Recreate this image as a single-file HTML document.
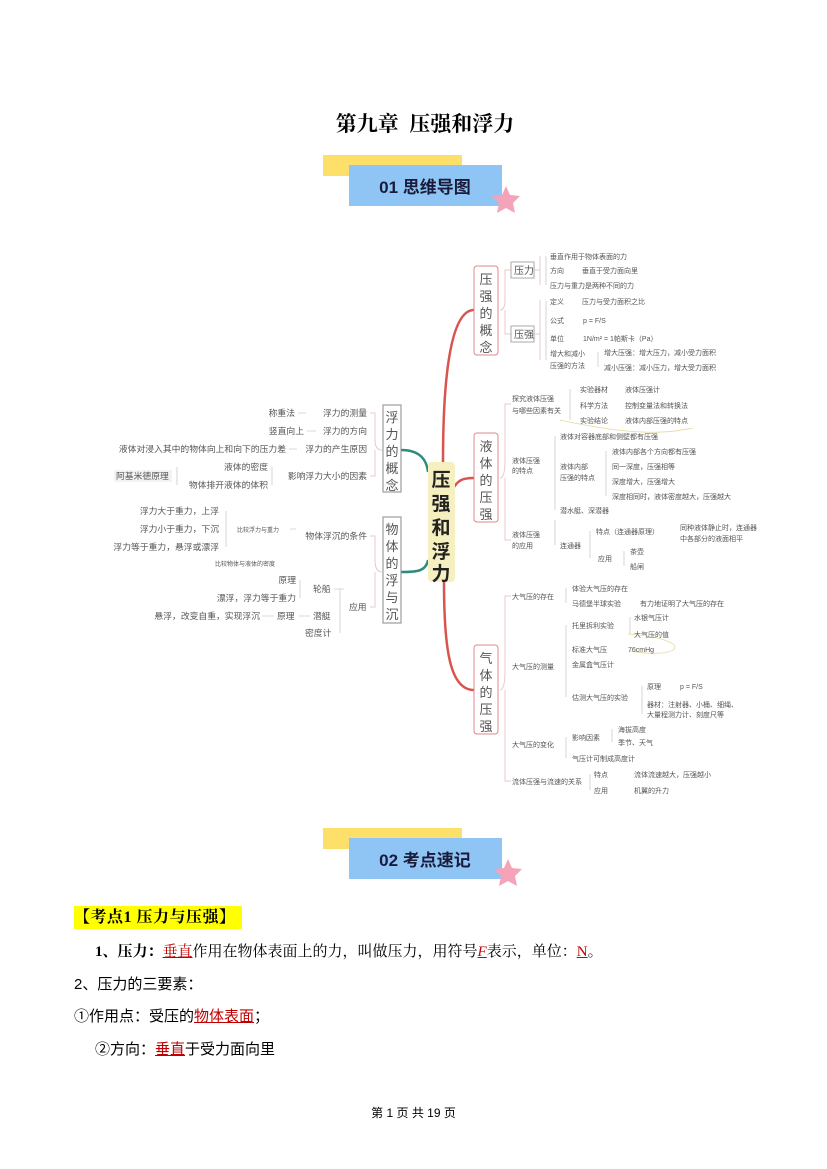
<!DOCTYPE html>
<html><head><meta charset="utf-8">
<style>
body{margin:0;background:#fff;}
#p{position:relative;width:827px;height:1169px;overflow:hidden;font-family:"Liberation Serif","Noto Serif CJK SC",serif;}
.a{position:absolute;white-space:nowrap;}
svg text{font-family:"Liberation Sans","Noto Sans CJK SC",sans-serif;fill:#555;}
.red{color:#c00000;text-decoration:underline;}
</style></head><body><div id="p">
<div class="a" style="left:0;width:850px;text-align:center;top:108px;font-size:21px;font-weight:bold;">第九章&nbsp; 压强和浮力</div>

<svg class="a" style="left:0;top:0" width="827" height="1169">
<rect x="323" y="155" width="139" height="21" fill="#fde06a"/>
<rect x="349" y="165" width="153" height="41" fill="#8ec5f4"/>
<polygon points="506,186 510,195 520,196 513,203 515,213 506,208 497,213 499,203 492,196 502,195" fill="#f4a3b8"/>
<text x="425" y="193" text-anchor="middle" font-size="17" font-weight="bold" style="fill:#1a1a3a">01  思维导图</text>
<rect x="323" y="828" width="139" height="21" fill="#fde06a"/>
<rect x="349" y="838" width="153" height="41" fill="#8ec5f4"/>
<polygon points="508,859 512,868 522,869 515,876 517,886 508,881 499,886 501,876 494,869 504,868" fill="#f4a3b8"/>
<text x="425" y="866" text-anchor="middle" font-size="17" font-weight="bold" style="fill:#1a1a3a">02  考点速记</text>

<g fill="none" stroke-width="2.5">
<path d="M443,462 C443,380 450,310 474,310" stroke="#d9544f"/>
<path d="M452,490 C458,480 462,478 474,478" stroke="#d9544f"/>
<path d="M444,582 C444,650 450,690 474,690" stroke="#d9544f"/>
<path d="M428,472 C426,455 415,450 401,450" stroke="#2e8b80"/>
<path d="M428,560 C426,572 415,572 401,572" stroke="#2e8b80"/>
</g>
<rect x="428" y="462" width="27" height="120" rx="4" fill="#f6efbf"/>
<g font-size="19" font-weight="bold" text-anchor="middle">
<text x="441" y="486" style="fill:#222">压</text><text x="441" y="510" style="fill:#222">强</text><text x="441" y="534" style="fill:#222">和</text><text x="441" y="558" style="fill:#222">浮</text><text x="441" y="580" style="fill:#222">力</text></g>

<g fill="#fff" stroke-width="1">
<rect x="474" y="266" width="24" height="89" rx="3" stroke="#d88"/>
<rect x="474" y="433" width="24" height="89" rx="3" stroke="#d88"/>
<rect x="474" y="645" width="24" height="89" rx="3" stroke="#d88"/>
<rect x="383" y="405" width="18" height="87" stroke="#888"/>
<rect x="383" y="517" width="18" height="106" stroke="#888"/>
</g>
<g font-size="13" text-anchor="middle">
<text x="486" y="284">压</text><text x="486" y="301">强</text><text x="486" y="318">的</text><text x="486" y="335">概</text><text x="486" y="352">念</text>
<text x="486" y="451">液</text><text x="486" y="468">体</text><text x="486" y="485">的</text><text x="486" y="502">压</text><text x="486" y="519">强</text>
<text x="486" y="663">气</text><text x="486" y="680">体</text><text x="486" y="697">的</text><text x="486" y="714">压</text><text x="486" y="731">强</text>
<text x="392" y="422">浮</text><text x="392" y="439">力</text><text x="392" y="456">的</text><text x="392" y="473">概</text><text x="392" y="490">念</text>
<text x="392" y="534">物</text><text x="392" y="551">体</text><text x="392" y="568">的</text><text x="392" y="585">浮</text><text x="392" y="602">与</text><text x="392" y="619">沉</text>
</g>

<g fill="none" stroke="#e8c8c8" stroke-width="1">
<path d="M500,310 Q505,310 505,300 V270 Q505,270 511,270 M505,310 V334 H511"/>
<path d="M534,270 H540 M540,256 V285 M534,334 H540 M540,300 V360"/>
<path d="M500,478 Q505,478 505,460 V404 H511 M505,478 V540 H511"/>
<path d="M500,690 Q505,690 505,670 V596 H511 M505,690 V781 H511"/>
<path d="M382,450 Q375,450 375,440 V413 H370 M375,450 V476 H370"/>
<path d="M382,572 Q375,572 375,560 V536 H370 M375,572 V607 H370"/>
</g>
<g fill="none" stroke="#ccc" stroke-width="0.8">
<path d="M546,256 V285 M546,301 V360 M598,352 V367 M570,389 V420 M555,436 V510 M606,451 V496 M555,520 V545 M590,531 V558 M624,551 V566"/>
<path d="M566,588 V603 M566,625 V697 M630,617 V634 M642,686 V714 M566,737 V758 M612,729 V742 M590,774 V790"/>
<path d="M298,413 H306 M307,431 H316 M289,449 H297 M272,467 V485 M177,467 V485 M226,511 V547 M290,529 H296 M300,580 V598 M334,589 H344 M262,616 H274 M299,616 H310 M340,589 V633"/>
<path d="M560,420 C650,440 680,430 693,428 M628,634 C700,640 680,660 630,651" stroke="#e6d9a0"/>
</g>

<rect x="511" y="262" width="23" height="16" fill="#fff" stroke="#aaa"/>
<rect x="511" y="326" width="23" height="16" fill="#fff" stroke="#aaa"/>
<g font-size="10"><text x="514" y="274">压力</text><text x="514" y="338">压强</text></g>

<g font-size="8.8" text-anchor="end">
<text x="295" y="416">称重法</text><text x="367" y="416">浮力的测量</text>
<text x="304" y="434">竖直向上</text><text x="367" y="434">浮力的方向</text>
<text x="286" y="452">液体对浸入其中的物体向上和向下的压力差</text><text x="367" y="452">浮力的产生原因</text>
<text x="268" y="470">液体的密度</text><text x="268" y="488">物体排开液体的体积</text><text x="367" y="479">影响浮力大小的因素</text>
<text x="219" y="514">浮力大于重力，上浮</text><text x="219" y="532">浮力小于重力，下沉</text><text x="219" y="550">浮力等于重力，悬浮或漂浮</text>
<text x="367" y="539">物体浮沉的条件</text>
<text x="296" y="583">原理</text><text x="296" y="601">漂浮，浮力等于重力</text><text x="260" y="619">悬浮，改变自重，实现浮沉</text>
</g>
<rect x="114" y="470" width="58" height="12" fill="#f3f3f3"/>
<g font-size="8.8">
<text x="116" y="479">阿基米德原理</text>
<text x="313" y="592">轮船</text><text x="277" y="619">原理</text><text x="313" y="619">潜艇</text><text x="305" y="636">密度计</text><text x="349" y="610">应用</text>
</g>
<g font-size="7">
<text x="237" y="532" font-size="6">比较浮力与重力</text>
<text x="215" y="566" font-size="6">比较物体与液体的密度</text>
<text x="550" y="259">垂直作用于物体表面的力</text>
<text x="550" y="273">方向</text><text x="582" y="273">垂直于受力面向里</text>
<text x="550" y="288">压力与重力是两种不同的力</text>
<text x="550" y="304">定义</text><text x="582" y="304">压力与受力面积之比</text>
<text x="550" y="323">公式</text><text x="583" y="323">p = F/S</text>
<text x="550" y="341">单位</text><text x="583" y="341">1N/m² = 1帕斯卡（Pa）</text>
<text x="550" y="356">增大和减小</text><text x="550" y="368">压强的方法</text>
<text x="604" y="355">增大压强：增大压力，减小受力面积</text>
<text x="604" y="370">减小压强：减小压力，增大受力面积</text>
<text x="512" y="401">探究液体压强</text><text x="512" y="413">与哪些因素有关</text>
<text x="580" y="392">实验器材</text><text x="625" y="392">液体压强计</text>
<text x="580" y="408">科学方法</text><text x="625" y="408">控制变量法和转换法</text>
<text x="580" y="423">实验结论</text><text x="625" y="423">液体内部压强的特点</text>
<text x="560" y="439">液体对容器底部和侧壁都有压强</text>
<text x="512" y="463">液体压强</text><text x="512" y="473">的特点</text>
<text x="560" y="469">液体内部</text><text x="560" y="480">压强的特点</text>
<text x="612" y="454">液体内部各个方向都有压强</text>
<text x="612" y="469">同一深度，压强相等</text>
<text x="612" y="484">深度增大，压强增大</text>
<text x="612" y="499">深度相同时，液体密度越大，压强越大</text>
<text x="560" y="513">潜水艇、深潜器</text>
<text x="512" y="537">液体压强</text><text x="512" y="548">的应用</text>
<text x="560" y="548">连通器</text>
<text x="596" y="534">特点（连通器原理）</text>
<text x="680" y="530">同种液体静止时，连通器</text><text x="680" y="541">中各部分的液面相平</text>
<text x="598" y="561">应用</text><text x="630" y="554">茶壶</text><text x="630" y="569">船闸</text>
<text x="512" y="599">大气压的存在</text>
<text x="572" y="591">体验大气压的存在</text>
<text x="572" y="606">马德堡半球实验</text><text x="640" y="606">有力地证明了大气压的存在</text>
<text x="512" y="669">大气压的测量</text>
<text x="572" y="628">托里拆利实验</text><text x="634" y="620">水银气压计</text><text x="634" y="637">大气压的值</text>
<text x="572" y="652">标准大气压</text><text x="628" y="652">76cmHg</text>
<text x="572" y="667">金属盒气压计</text>
<text x="572" y="700">估测大气压的实验</text>
<text x="647" y="689">原理</text><text x="680" y="689">p = F/S</text>
<text x="647" y="707">器材：注射器、小桶、细绳、</text><text x="647" y="717">大量程测力计、刻度尺等</text>
<text x="512" y="747">大气压的变化</text>
<text x="572" y="740">影响因素</text><text x="618" y="732">海拔高度</text><text x="618" y="745">季节、天气</text>
<text x="572" y="761">气压计可制成高度计</text>
<text x="512" y="784">流体压强与流速的关系</text>
<text x="594" y="777">特点</text><text x="634" y="777">流体流速越大，压强越小</text>
<text x="594" y="793">应用</text><text x="634" y="793">机翼的升力</text>
</g>
</svg>

<div class="a" style="left:74px;top:906px;height:23px;background:#ffff00;font-size:16px;font-weight:bold;line-height:23px;padding-right:6px;letter-spacing:0.5px;">【考点1 压力与压强】</div>
<div class="a" style="left:95px;top:940px;font-size:15px;"><b>1、压力：</b><span class="red">垂直</span>作用在物体表面上的力，叫做压力，用符号<span class="red"><i>F</i></span>表示，单位：<span class="red">N</span>。</div>
<div class="a" style="left:74px;top:973px;font-size:15px;font-family:'Liberation Sans','Noto Sans CJK SC',sans-serif;">2、压力的三要素：</div>
<div class="a" style="left:74px;top:1005px;font-size:15px;font-family:'Liberation Sans','Noto Sans CJK SC',sans-serif;">①作用点：受压的<span class="red">物体表面</span>；</div>
<div class="a" style="left:95px;top:1038px;font-size:15px;font-family:'Liberation Sans','Noto Sans CJK SC',sans-serif;">②方向：<span class="red">垂直</span>于受力面向里</div>
<div class="a" style="left:0;width:827px;text-align:center;top:1104px;font-size:12px;font-family:'Liberation Sans','Noto Sans CJK SC',sans-serif;">第 1 页 共 19 页</div>
</div></body></html>
